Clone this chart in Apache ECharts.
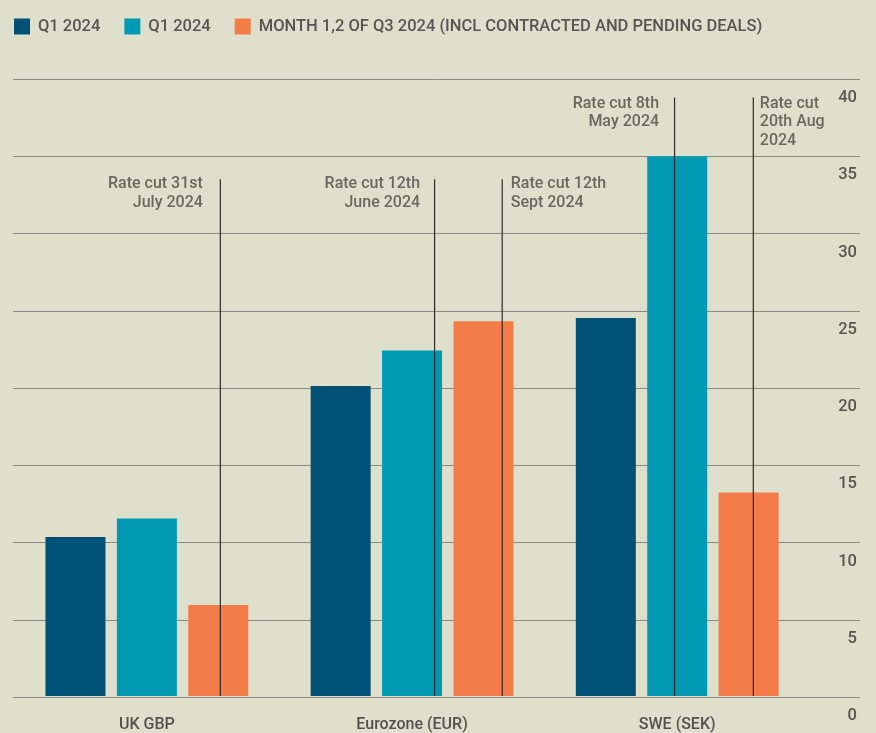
<!DOCTYPE html>
<html>
<head>
<meta charset="utf-8">
<script src="https://cdn.jsdelivr.net/npm/echarts@6/dist/echarts.min.js"></script>
<style>
html,body{margin:0;padding:0;background:#dfe0cb;}
#chart{width:876px;height:733px;}
</style>
</head>
<body>
<div id="chart"></div>
<script>
// ---- data ----
const categories = ['UK GBP', 'Eurozone (EUR)', 'SWE (SEK)'];
const seriesIds = ['q1a', 'q1b', 'm12q3'];
const legendLabels = ['Q1 2024', 'Q1 2024', 'MONTH 1,2 OF Q3 2024 (INCL CONTRACTED AND PENDING DEALS)'];
const q1aValues = [10.3, 20.1, 24.5];
const q1bValues = [11.5, 22.4, 35.0];
const m12q3Values = [5.9, 24.3, 13.2];
const yTicks = [0, 5, 10, 15, 20, 25, 30, 35, 40];
// rate-cut annotations: position along the category axis (category index units) and top value
const cutX = [0.277, 1.085, 1.340, 1.990, 2.287];
const cutTop = [33.5, 33.5, 33.5, 38.8, 38.8];
const cutText = ['Rate cut 31st\nJuly 2024', 'Rate cut 12th\nJune 2024', 'Rate cut 12th\nSept 2024', 'Rate cut 8th\nMay 2024', 'Rate cut\n20th Aug\n2024'];

// ---- styles ----
const colors = ['#005176', '#0099b3', '#f47c48'];
const labelStyle = [
  {align: 'right', position: [-17, -4]},
  {align: 'right', position: [-14, -4]},
  {align: 'left', position: [9, -4]},
  {align: 'right', position: [-15, -2.5]},
  {align: 'left', position: [7, -2.5]}
];
const FONT = 'Roboto, "Noto Sans", sans-serif';

const chart = echarts.init(document.getElementById('chart'), null, {renderer: 'canvas'});

const barData = [q1aValues, q1bValues, m12q3Values];
const series = seriesIds.map((id, i) => ({
  name: id,
  type: 'bar',
  xAxisIndex: 0,
  yAxisIndex: 1,
  data: barData[i],
  barWidth: 60,
  barGap: '19%',
  itemStyle: {color: colors[i]},
  z: 2
}));

cutX.forEach((x, i) => {
  series.push({
    type: 'line',
    xAxisIndex: 1,
    yAxisIndex: 1,
    data: [[x, 0], [x, cutTop[i]]],
    symbol: 'none',
    lineStyle: {color: '#2b2b2b', width: 1.2},
    silent: true,
    z: 5
  });
});

series.push({
  type: 'scatter',
  xAxisIndex: 1,
  yAxisIndex: 1,
  symbolSize: 1,
  itemStyle: {color: 'rgba(0,0,0,0)'},
  silent: true,
  z: 6,
  data: cutX.map((x, i) => ({
    value: [x, cutTop[i]],
    label: {
      show: true,
      formatter: cutText[i],
      position: labelStyle[i].position,
      align: labelStyle[i].align,
      verticalAlign: 'top',
      fontFamily: FONT,
      fontSize: 16,
      fontWeight: 500,
      lineHeight: 18.5,
      color: '#4a4a46'
    }
  }))
});

chart.setOption({
  animation: false,
  backgroundColor: '#dfe0cb',
  textStyle: {fontFamily: FONT},
  legend: {
    data: seriesIds,
    left: 9,
    top: 13,
    itemWidth: 16,
    itemHeight: 16,
    itemGap: 24,
    icon: 'rect',
    selectedMode: false,
    formatter: name => legendLabels[seriesIds.indexOf(name)],
    textStyle: {fontFamily: FONT, fontSize: 16.5, fontWeight: 500, color: '#555555', padding: [0, 0, 0, 3]}
  },
  grid: [
    {left: 13, right: 16, top: 79, bottom: 36},
    {left: 14.3, width: 795.5, top: 79, bottom: 36}
  ],
  xAxis: [
    {
      type: 'category', gridIndex: 1, data: categories,
      axisLine: {show: false}, axisTick: {show: false},
      axisLabel: {fontFamily: FONT, fontSize: 16, fontWeight: 500, color: '#525252', margin: 21, lineHeight: 16, verticalAlign: 'top'}
    },
    {type: 'value', gridIndex: 1, min: -0.5, max: 2.5, show: false},
    {type: 'value', gridIndex: 0, min: 0, max: 1, show: false}
  ],
  yAxis: [
    {
      type: 'value', gridIndex: 0, position: 'right', min: 0, max: 40, interval: 5,
      axisLine: {show: false}, axisTick: {show: false},
      splitLine: {show: true, lineStyle: {color: '#8a8a84', width: 1}},
      axisLabel: {
        inside: true, margin: 3, fontFamily: FONT, fontSize: 16.5, fontWeight: 500, color: '#555555',
        verticalAlign: 'top', lineHeight: 16, padding: [11, 0, 0, 0],
        formatter: v => yTicks.indexOf(v) >= 0 ? String(v) : ''
      }
    },
    {type: 'value', gridIndex: 1, min: 0, max: 40, show: false}
  ],
  series: series
});
</script>
</body>
</html>
